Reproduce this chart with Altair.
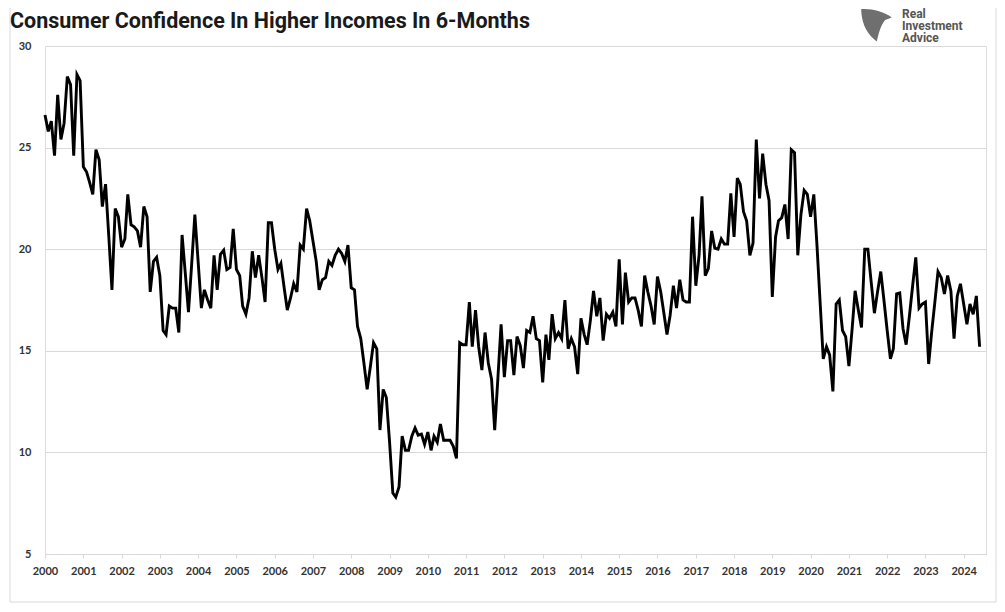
import altair as alt
import pandas as pd

# Monthly values, Jan 2000 - Jun 2024
v2000 = [26.6, 25.8, 26.3, 24.6, 27.6, 25.4, 26.2, 28.5, 28.1, 24.6, 28.6, 28.3]
v2001 = [24.05, 23.8, 23.3, 22.7, 24.9, 24.4, 22.1, 23.2, 20.6, 18.0, 22.0, 21.6]
v2002 = [20.1, 20.5, 22.7, 21.2, 21.1, 20.9, 20.1, 22.1, 21.6, 17.9, 19.4, 19.6]
v2003 = [18.7, 16.0, 15.8, 17.2, 17.1, 17.1, 15.9, 20.7, 18.8, 16.9, 19.3, 21.7]
v2004 = [19.4, 17.1, 18.0, 17.5, 17.1, 19.7, 18.0, 19.75, 19.95, 19.0, 19.1, 21.0]
v2005 = [19.0, 18.7, 17.2, 16.8, 17.6, 19.9, 18.6, 19.7, 18.6, 17.4, 21.3, 21.3]
v2006 = [20.0, 19.0, 19.3, 18.1, 17.0, 17.6, 18.3, 17.9, 20.2, 20.0, 22.0, 21.4]
v2007 = [20.4, 19.4, 18.0, 18.5, 18.6, 19.4, 19.2, 19.7, 20.0, 19.8, 19.4, 20.2]
v2008 = [18.1, 18.0, 16.2, 15.6, 14.4, 13.1, 14.2, 15.4, 15.1, 11.1, 13.1, 12.7]
v2009 = [10.5, 8.0, 7.8, 8.3, 10.8, 10.1, 10.1, 10.8, 11.2, 10.85, 10.9, 10.4]
v2010 = [11.0, 10.1, 10.8, 10.5, 11.4, 10.6, 10.6, 10.6, 10.3, 9.7, 15.4, 15.3]
v2011 = [15.3, 17.4, 15.2, 17.0, 15.2, 14.05, 15.9, 14.4, 13.6, 11.1, 13.7, 16.3]
v2012 = [13.7, 15.5, 15.5, 13.8, 15.7, 15.25, 14.15, 16.0, 15.9, 16.7, 15.6, 15.5]
v2013 = [13.45, 15.8, 14.55, 16.8, 15.6, 15.9, 15.6, 17.5, 15.1, 15.6, 15.2, 13.85]
v2014 = [16.6, 15.8, 15.3, 16.5, 17.95, 16.7, 17.6, 15.5, 16.8, 16.6, 16.9, 16.2]
v2015 = [19.5, 16.3, 18.85, 17.4, 17.6, 17.6, 17.0, 16.2, 18.7, 17.9, 17.2, 16.3]
v2016 = [18.65, 17.9, 16.9, 15.8, 16.75, 18.2, 17.1, 18.5, 17.5, 17.4, 17.4, 21.6]
v2017 = [18.2, 19.7, 22.6, 18.7, 19.05, 20.9, 20.05, 20.0, 20.5, 20.25, 20.25, 22.75]
v2018 = [20.6, 23.5, 23.2, 21.85, 21.4, 19.7, 20.3, 25.4, 22.5, 24.7, 23.2, 22.4]
v2019 = [17.65, 20.6, 21.4, 21.55, 22.2, 20.5, 24.9, 24.75, 19.7, 21.7, 22.9, 22.7]
v2020 = [21.6, 22.7, 20.3, 17.4, 14.6, 15.2, 14.8, 13.0, 17.3, 17.5, 16.0, 15.7]
v2021 = [14.25, 16.1, 17.95, 17.0, 16.15, 20.0, 20.0, 18.4, 16.85, 17.9, 18.9, 17.5]
v2022 = [16.0, 14.6, 15.1, 17.8, 17.85, 16.1, 15.3, 16.7, 18.2, 19.6, 17.1, 17.3]
v2023 = [17.4, 14.35, 15.9, 17.4, 18.9, 18.6, 17.8, 18.7, 17.95, 15.6, 17.7, 18.3]
v2024 = [17.3, 16.3, 17.3, 16.8, 17.7, 15.2]

series = [v2000, v2001, v2002, v2003, v2004, v2005, v2006, v2007, v2008, v2009,
          v2010, v2011, v2012, v2013, v2014, v2015, v2016, v2017, v2018, v2019,
          v2020, v2021, v2022, v2023, v2024]
first_year = 2000
year_ticks = list(range(2000, 2025))
y_ticks = [5, 10, 15, 20, 25, 30]

title_text = "Consumer Confidence In Higher Incomes In 6-Months"
logo_lines = ["Real", "Investment", "Advice"]

dates, vals = [], []
for i, yr in enumerate(series):
    for m, v in enumerate(yr):
        dates.append(f"{first_year + i}-{m + 1:02d}-01T00:00:00")
        vals.append(v)
df = pd.DataFrame({"date": dates, "value": vals})

W, H = 941, 508
FONT = "Lato"

line = alt.Chart(df).mark_line(color="#000000", strokeWidth=2.9).encode(
    x=alt.X("date:T",
            scale=alt.Scale(domain=[alt.DateTime(year=2000, month=1, date=1),
                                    alt.DateTime(year=2024, month=8, date=1)], nice=False),
            axis=alt.Axis(values=[alt.DateTime(year=y, month=1, date=1) for y in year_ticks],
                          format="%Y", grid=False, domain=False, ticks=True, tickSize=4,
                          tickColor="#d9d9d9", labelPadding=7, labelFont=FONT,
                          labelFontSize=11, labelFontWeight="bold", labelColor="#333333",
                          labelAngle=0, labelOverlap=False, labelFlush=False, title=None)),
    y=alt.Y("value:Q",
            scale=alt.Scale(domain=[5, 30], nice=False, zero=False),
            axis=alt.Axis(values=y_ticks, grid=True, gridColor="#d9d9d9", domain=False,
                          ticks=False, labelPadding=14, labelFont=FONT, labelFontSize=11,
                          labelFontWeight="bold", labelColor="#333333", labelFlush=False,
                          title=None)),
)

one = pd.DataFrame({"k": [0]})
frame = alt.Chart(one).mark_rect(fillOpacity=0, stroke="#d9d9d9", strokeWidth=1).encode(
    x=alt.value(-35), x2=alt.value(951), y=alt.value(-60), y2=alt.value(556))

title = alt.Chart(pd.DataFrame({"t": [title_text]})).mark_text(
    align="left", baseline="alphabetic", font="Roboto", fontSize=21.5, fontWeight="bold",
    color="#1a1a1a").encode(x=alt.value(-35), y=alt.value(-18), text="t:N")

logo_df = pd.DataFrame({"t": logo_lines, "yy": [-32, -20, -8]})
logo_text = alt.Chart(logo_df).mark_text(
    align="left", baseline="middle", font="Roboto", fontSize=12, fontWeight="bold",
    color="#555555").encode(x=alt.value(857), y=alt.Y("yy:Q", scale=None), text="t:N")

shield = "M -0.9 -0.95 C -0.3 -1 0.5 -0.8 0.95 -0.45 L 0.55 -0.3 C 0.3 0.0 0.15 0.5 0.05 1 C -0.45 0.6 -0.85 0.1 -0.9 -0.95 Z"
icon = alt.Chart(one).mark_point(shape=shield, filled=True, color="#6f6f6f", opacity=1,
                                 size=1100).encode(x=alt.value(831), y=alt.value(-21))

chart = alt.layer(frame, line, title, logo_text, icon).properties(
    width=W, height=H,
    padding={"left": 37, "top": 38, "right": 11, "bottom": 50},
    autosize=alt.AutoSizeParams(type="none"),
).configure_view(stroke=None).configure(background="#ffffff")

chart.save("out.html", embed_options={"renderer": "svg", "actions": False})
